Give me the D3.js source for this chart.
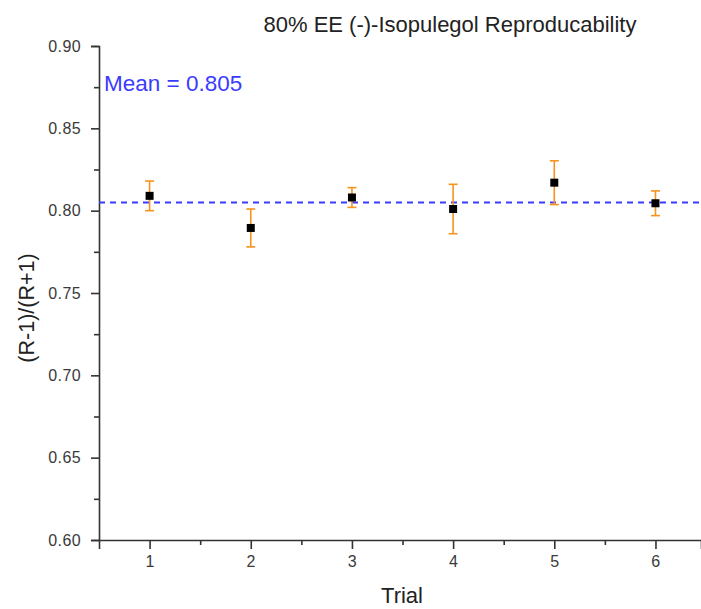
<!DOCTYPE html>
<html>
<head>
<meta charset="utf-8">
<script src="https://cdn.jsdelivr.net/npm/d3@7"></script>
<style>
  body { margin: 0; background: #fff; }
  text { font-family: "Liberation Sans", Arial, sans-serif; }
</style>
</head>
<body>
<script>
// Trial data
const trials = [1, 2, 3, 4, 5, 6];
const values = [0.809, 0.7895, 0.808, 0.801, 0.817, 0.8045];
const errors = [0.009, 0.0115, 0.006, 0.015, 0.0133, 0.0075];
const meanValue = 0.805;
const yTicks = [0.60, 0.65, 0.70, 0.75, 0.80, 0.85, 0.90];

const width = 701, height = 609;
const margin = { top: 46, right: 0, bottom: 69, left: 99 };

const svg = d3.select("body").append("svg")
    .attr("width", width)
    .attr("height", height);

const x = d3.scaleLinear()
    .domain([0.5, 6.45])
    .range([margin.left, width - margin.right]);

const y = d3.scaleLinear()
    .domain([0.60, 0.90])
    .range([height - margin.bottom, margin.top]);

const axisColor = "#333";

// Y axis, major then minor ticks
const yAxis = svg.append("g")
    .attr("transform", `translate(${margin.left},0)`)
    .call(d3.axisLeft(y).tickValues(yTicks).tickFormat(d3.format(".2f")).tickSize(8).tickPadding(10));
yAxis.append("g")
    .call(d3.axisLeft(y).tickValues(d3.range(0.625, 0.9, 0.05)).tickSize(5).tickFormat(""))
    .select(".domain").remove();

// X axis
const xAxis = svg.append("g")
    .attr("transform", `translate(0,${height - margin.bottom})`)
    .call(d3.axisBottom(x).tickValues(trials).tickFormat(d3.format("d")).tickSize(9).tickPadding(7));
xAxis.append("g")
    .call(d3.axisBottom(x).tickValues(d3.range(1.5, 6.5, 1)).tickSize(5).tickFormat(""))
    .select(".domain").remove();

svg.selectAll(".domain, .tick line")
    .attr("stroke", axisColor)
    .attr("stroke-width", 1.6);
svg.selectAll(".tick text")
    .attr("fill", "#3a3a3a")
    .attr("font-size", 16)
    .attr("letter-spacing", 0.4);
svg.selectAll(".domain").attr("d", function () {
    return d3.select(this).attr("d").replace(/V6|V-6|H6|H-6/g, m => m[0] + "0");
});

// Mean line
svg.append("line")
    .attr("x1", x(0.5)).attr("x2", width)
    .attr("y1", y(meanValue)).attr("y2", y(meanValue))
    .attr("stroke", "#3b3bff")
    .attr("stroke-width", 2)
    .attr("stroke-dasharray", "6,5");

svg.append("text")
    .attr("x", 104).attr("y", 91)
    .attr("fill", "#3b3bff")
    .attr("font-size", 22.5)
    .text("Mean = 0.805");

// Error bars
const bars = svg.append("g")
    .selectAll("g")
    .data(trials)
    .join("g")
    .attr("stroke", "#f7941d")
    .attr("stroke-width", 1.6);

bars.append("line")
    .attr("x1", d => x(d)).attr("x2", d => x(d))
    .attr("y1", (d, i) => y(values[i] + errors[i]))
    .attr("y2", (d, i) => y(values[i] - errors[i]));
bars.append("line")
    .attr("x1", d => x(d) - 4.5).attr("x2", d => x(d) + 4.5)
    .attr("y1", (d, i) => y(values[i] + errors[i]))
    .attr("y2", (d, i) => y(values[i] + errors[i]));
bars.append("line")
    .attr("x1", d => x(d) - 4.5).attr("x2", d => x(d) + 4.5)
    .attr("y1", (d, i) => y(values[i] - errors[i]))
    .attr("y2", (d, i) => y(values[i] - errors[i]));

// Points
svg.append("g")
    .selectAll("rect")
    .data(trials)
    .join("rect")
    .attr("x", d => x(d) - 4)
    .attr("y", (d, i) => y(values[i]) - 4)
    .attr("width", 8)
    .attr("height", 8)
    .attr("fill", "#000");

// Titles
svg.append("text")
    .attr("x", 450).attr("y", 32)
    .attr("text-anchor", "middle")
    .attr("font-size", 22)
    .attr("fill", "#222")
    .text("80% EE (-)-Isopulegol Reproducability");

svg.append("text")
    .attr("x", 402).attr("y", 603)
    .attr("text-anchor", "middle")
    .attr("font-size", 22)
    .attr("fill", "#222")
    .text("Trial");

svg.append("text")
    .attr("transform", "translate(34,308) rotate(-90)")
    .attr("text-anchor", "middle")
    .attr("font-size", 21.5)
    .attr("fill", "#222")
    .text("(R-1)/(R+1)");
</script>
</body>
</html>
